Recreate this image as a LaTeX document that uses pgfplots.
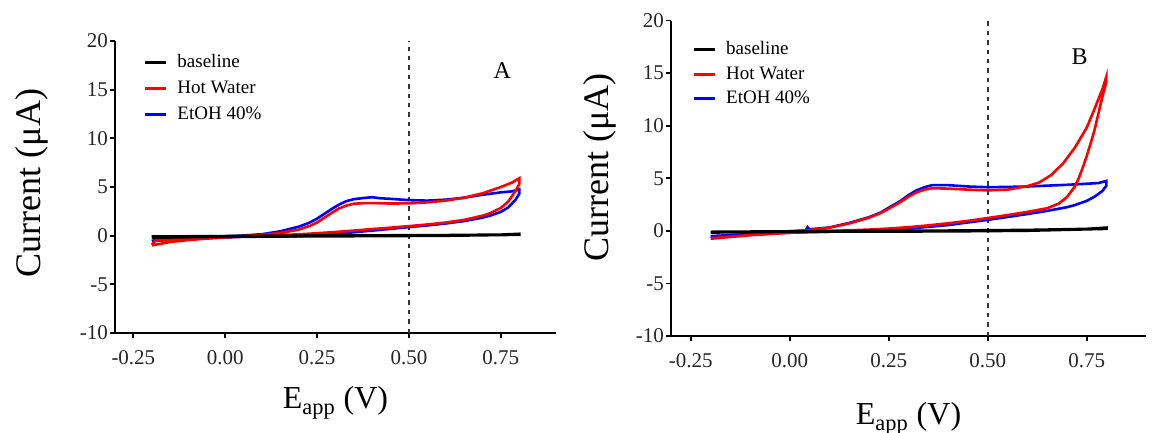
\documentclass[border=0pt]{standalone}
\usepackage{fontspec}
\setmainfont{Liberation Serif}
\usepackage{pgfplots}
\pgfplotsset{compat=1.18}

\pgfplotsset{
  cv/.style={
    scale only axis,
    axis x line=bottom, axis y line=left,
    axis line style={-, line width=0.9pt},
    xmin=-0.3, xmax=0.9, ymin=-10, ymax=20,
    xtick={-0.25,0,0.25,0.5,0.75},
    ytick={-10,-5,0,5,10,15,20},
    x tick label style={yshift=-2.5pt, /pgf/number format/.cd, fixed, fixed zerofill, precision=2, assume math mode=true},
    y tick label style={xshift=2.5pt, /pgf/number format/assume math mode=true},
    tick align=outside, major tick length=2.5pt,
    tick style={line width=0.9pt, black},
    tick label style={font=\fontsize{10.5}{12}\selectfont, text=black!85},
    xlabel={E\textsubscript{app} (V)},
    ylabel={Current (μA)},
    x label style={anchor=base, font=\fontsize{16}{18}\selectfont},
    y label style={anchor=center, font=\fontsize{18}{20}\selectfont},
    legend style={draw=none, fill=none, anchor=north west,
      font=\fontsize{9.5}{11}\selectfont, inner sep=0pt},
    legend cell align=left,
    legend image code/.code={\draw[#1, line width=1.4pt] (0pt,0pt) -- (10.5pt,0pt);
      \path[draw=none] (0pt,0pt) -- (14pt,0pt);},
  },
  vline/.style={black!80, line width=0.9pt, dash pattern=on 2.2pt off 2.5pt, forget plot},
  redline/.style={red, line width=1.3pt, forget plot},
  blueline/.style={blue, line width=1.3pt, forget plot},
  baseline/.style={black, line width=1.4pt, forget plot},
}

\begin{document}
\begin{tikzpicture}
\path[use as bounding box] (0,0) rectangle (576pt,216.5pt);

% panel A
\begin{axis}[cv,
  at={(57.5pt,50pt)}, anchor=south west,
  width=220.5pt, height=146pt,
  x label style={at={(axis description cs:0.5,-0.26)}},
  y label style={at={(axis description cs:-0.188,0.514)}},
  legend style={at={(axis description cs:0.065,0.969)}, row sep=1.2pt},
]
\addlegendimage{black}
\addlegendentry{baseline}
\addlegendimage{red}
\addlegendentry{Hot Water}
\addlegendimage{blue}
\addlegendentry{EtOH 40\%}
\addplot[vline] coordinates {(0.5,-10) (0.5,20)};
\addplot[blueline] coordinates {
(-0.20,-0.55) (-0.18,-0.35) (-0.10,-0.25) (0.00,-0.08) (0.05,0.02) (0.10,0.15)
(0.15,0.45) (0.20,0.92) (0.23,1.35) (0.25,1.75) (0.27,2.25) (0.29,2.75)
(0.31,3.20) (0.33,3.55) (0.35,3.75) (0.38,3.88) (0.40,3.95) (0.42,3.85)
(0.45,3.78) (0.50,3.65) (0.55,3.60) (0.60,3.70) (0.65,3.90) (0.70,4.20)
(0.75,4.45) (0.78,4.55) (0.80,4.75)
(0.80,4.30) (0.79,3.70) (0.77,2.90) (0.75,2.45) (0.72,2.05) (0.70,1.85)
(0.65,1.50) (0.60,1.25) (0.55,1.05) (0.50,0.88) (0.45,0.70) (0.40,0.52)
(0.35,0.35) (0.30,0.18) (0.25,0.05) (0.20,-0.05) (0.15,-0.10) (0.10,-0.10)
(0.05,-0.12) (0.00,-0.18) (-0.05,-0.25) (-0.10,-0.33) (-0.15,-0.45) (-0.20,-0.55)
};
\addplot[redline] coordinates {
(-0.20,-0.95) (-0.19,-0.50) (-0.15,-0.42) (-0.10,-0.33) (-0.05,-0.22) (0.00,-0.12)
(0.05,-0.03) (0.10,0.08) (0.15,0.28) (0.20,0.62) (0.23,1.00) (0.25,1.35)
(0.27,1.85) (0.29,2.35) (0.31,2.80) (0.33,3.10) (0.35,3.28) (0.38,3.35)
(0.40,3.35) (0.45,3.30) (0.50,3.32) (0.55,3.42) (0.60,3.60) (0.65,3.90)
(0.70,4.35) (0.75,5.00) (0.78,5.45) (0.80,5.90)
(0.80,5.30) (0.79,4.60) (0.77,3.50) (0.75,2.85) (0.72,2.30) (0.70,2.05)
(0.65,1.62) (0.60,1.35) (0.55,1.15) (0.50,0.98) (0.45,0.82) (0.40,0.68)
(0.35,0.52) (0.30,0.38) (0.25,0.25) (0.20,0.14) (0.15,0.06) (0.10,0.00)
(0.05,-0.08) (0.00,-0.18) (-0.05,-0.30) (-0.10,-0.45) (-0.15,-0.65) (-0.20,-1.00)
};
\addplot[baseline] coordinates {
(-0.20,-0.10) (0.00,-0.05) (0.20,0.00) (0.40,0.02) (0.60,0.05) (0.75,0.10) (0.80,0.18)
(0.80,0.10) (0.60,0.00) (0.40,-0.04) (0.20,-0.06) (0.00,-0.10) (-0.20,-0.20)
};
\node[font=\fontsize{12}{14}\selectfont] at (axis description cs:0.878,0.90) {A};
\end{axis}

% panel B
\begin{axis}[cv,
  at={(335.5pt,48.5pt)}, anchor=south west,
  width=237.5pt, height=157.7pt,
  x label style={at={(axis description cs:0.5,-0.282)}},
  y label style={at={(axis description cs:-0.149,0.534)}},
  legend style={at={(axis description cs:0.045,0.948)}, row sep=0.5pt},
]
\addlegendimage{black}
\addlegendentry{baseline}
\addlegendimage{red}
\addlegendentry{Hot Water}
\addlegendimage{blue}
\addlegendentry{EtOH 40\%}
\addplot[vline] coordinates {(0.5,-10) (0.5,20)};
\addplot[blueline] coordinates {
(-0.20,-0.50) (-0.15,-0.40) (-0.10,-0.30) (-0.05,-0.15) (0.00,-0.05) (0.04,0.05)
(0.045,0.35) (0.05,0.15) (0.10,0.32) (0.15,0.75) (0.20,1.30) (0.23,1.75)
(0.25,2.20) (0.28,2.85) (0.30,3.40) (0.32,3.85) (0.34,4.15) (0.36,4.35)
(0.40,4.35) (0.45,4.22) (0.50,4.15) (0.55,4.18) (0.60,4.22) (0.65,4.30)
(0.70,4.38) (0.75,4.48) (0.78,4.55) (0.80,4.75)
(0.80,4.30) (0.79,3.80) (0.77,3.25) (0.75,2.85) (0.72,2.45) (0.70,2.25)
(0.65,1.90) (0.60,1.60) (0.55,1.32) (0.50,1.05) (0.45,0.80) (0.40,0.55)
(0.35,0.38) (0.30,0.22) (0.25,0.10) (0.20,0.02) (0.15,-0.05) (0.10,-0.08)
(0.05,-0.12) (0.00,-0.18) (-0.05,-0.25) (-0.10,-0.33) (-0.15,-0.42) (-0.20,-0.50)
};
\addplot[redline] coordinates {
(-0.20,-0.70) (-0.15,-0.55) (-0.10,-0.40) (-0.05,-0.25) (0.00,-0.10) (0.05,0.08)
(0.10,0.30) (0.15,0.70) (0.20,1.25) (0.23,1.70) (0.25,2.10) (0.28,2.75)
(0.30,3.25) (0.32,3.65) (0.34,3.92) (0.36,4.05) (0.40,4.02) (0.45,3.92)
(0.50,3.85) (0.55,3.92) (0.60,4.25) (0.63,4.60) (0.66,5.30) (0.69,6.40)
(0.72,7.90) (0.75,9.80) (0.77,11.60) (0.79,13.50) (0.80,14.70)
(0.80,14.20) (0.79,12.80) (0.78,11.20) (0.77,9.60) (0.76,8.30) (0.75,7.10)
(0.74,6.00) (0.73,5.00) (0.72,4.20) (0.70,3.20) (0.68,2.60) (0.65,2.15)
(0.60,1.80) (0.55,1.50) (0.50,1.22) (0.45,0.95) (0.40,0.72) (0.35,0.52)
(0.30,0.35) (0.25,0.22) (0.20,0.12) (0.15,0.05) (0.10,-0.02) (0.05,-0.08)
(0.00,-0.18) (-0.05,-0.30) (-0.10,-0.42) (-0.15,-0.58) (-0.20,-0.75)
};
\addplot[baseline] coordinates {
(-0.20,-0.10) (0.00,-0.05) (0.20,0.00) (0.40,0.02) (0.60,0.08) (0.75,0.18) (0.80,0.30)
(0.80,0.20) (0.60,0.02) (0.40,-0.04) (0.20,-0.06) (0.00,-0.08) (-0.20,-0.15)
};
\node[font=\fontsize{12}{14}\selectfont] at (axis description cs:0.86,0.885) {B};
\end{axis}
\end{tikzpicture}
\end{document}
